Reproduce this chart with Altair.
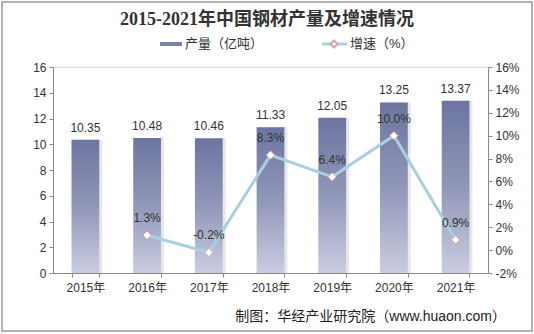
import altair as alt
import pandas as pd

years = ["2015年", "2016年", "2017年", "2018年", "2019年", "2020年", "2021年"]
output = [10.35, 10.48, 10.46, 11.33, 12.05, 13.25, 13.37]
growth = [None, 1.3, -0.2, 8.3, 6.4, 10.0, 0.9]
growth_labels = ["", "1.3%", "-0.2%", "8.3%", "6.4%", "10.0%", "0.9%"]
left_ticks = [0, 2, 4, 6, 8, 10, 12, 14, 16]
right_ticks = [-2, 0, 2, 4, 6, 8, 10, 12, 14, 16]

title_text = "2015-2021年中国钢材产量及增速情况"
legend_bar = "产量（亿吨）"
legend_line = "增速（%）"
source_text = "制图：华经产业研究院（www.huaon.com）"

FONT = "Liberation Sans, Noto Sans CJK SC, sans-serif"
W, H = 435, 206

df = pd.DataFrame({"year": years, "output": output,
                   "growth": growth, "glabel": growth_labels})
df_bar_lbl = df.assign(olabel=[f"{v:.2f}" for v in output])
df_line = df.dropna(subset=["growth"])

xenc = alt.X("year:N", sort=years, title=None,
             scale=alt.Scale(paddingInner=0.55, paddingOuter=0.3),
             axis=alt.Axis(labelAngle=0, tickBand="extent", domainColor="#888",
                           tickColor="#888", labelColor="#333", labelFontSize=12,
                           labelFont=FONT, labelPadding=5, tickSize=4))

yleft = alt.Y("output:Q", title=None,
              scale=alt.Scale(domain=[0, 16], nice=False),
              axis=alt.Axis(values=left_ticks, grid=False, domainColor="#888",
                            tickColor="#888", labelColor="#333", labelFontSize=12,
                            labelFont=FONT, tickSize=4, labelPadding=3))

grad = alt.Gradient(gradient="linear",
                    stops=[alt.GradientStop(color="#6c75a0", offset=0),
                           alt.GradientStop(color="#9097b8", offset=0.5),
                           alt.GradientStop(color="#cacde0", offset=1)],
                    x1=0, x2=0, y1=0, y2=1)

shadow = alt.Chart(df).mark_bar(color="#c4c4c4", opacity=0.4, xOffset=3).encode(
    x=xenc, y=yleft)
bars = alt.Chart(df).mark_bar(color=grad).encode(x=xenc, y=yleft)
bar_lbl = alt.Chart(df_bar_lbl).mark_text(dy=-12, fontSize=12, font=FONT,
                                          color="#333").encode(
    x=xenc, y=yleft, text="olabel:N")

yright = alt.Y("growth:Q", title=None,
               scale=alt.Scale(domain=[-2, 16], nice=False),
               axis=alt.Axis(orient="right", values=right_ticks, grid=False,
                             labelExpr="datum.value + '%'", domainColor="#888",
                             tickColor="#888", labelColor="#333", labelFontSize=12,
                             labelFont=FONT, tickSize=4, labelPadding=3))

line = alt.Chart(df_line).mark_line(color="#a9d0e0", strokeWidth=3).encode(
    x=xenc, y=yright)
pts = alt.Chart(df_line).mark_point(shape="diamond", filled=True, fill="white",
                                    stroke="#d9a3aa", strokeWidth=1, size=70,
                                    opacity=1).encode(x=xenc, y=yright)
line_lbl = alt.Chart(df_line).mark_text(dy=-17, fontSize=12, font=FONT,
                                        color="#333").encode(
    x=xenc, y=yright, text="glabel:N")

left_group = alt.layer(shadow, bars, bar_lbl)
right_group = alt.layer(line, pts, line_lbl)

one = pd.DataFrame({"k": [0]})
title_mark = alt.Chart(one).mark_text(text=title_text, fontSize=18, fontWeight="bold",
                                      font="Liberation Serif, Noto Sans CJK SC",
                                      color="#333", align="center").encode(
    x=alt.value(214), y=alt.value(-47))
leg_rect = alt.Chart(one).mark_rect(color="#7a82a8").encode(
    x=alt.value(107), x2=alt.value(129), y=alt.value(-25), y2=alt.value(-21))
leg_t1 = alt.Chart(one).mark_text(text=legend_bar, fontSize=13, font=FONT,
                                  color="#333", align="left").encode(
    x=alt.value(132), y=alt.value(-23))
leg_line = alt.Chart(one).mark_rule(color="#a9d0e0", strokeWidth=3).encode(
    x=alt.value(269), x2=alt.value(294), y=alt.value(-23))
leg_pt = alt.Chart(one).mark_point(shape="diamond", filled=True, fill="white",
                                   stroke="#d9a3aa", size=50, opacity=1).encode(
    x=alt.value(281), y=alt.value(-23))
leg_t2 = alt.Chart(one).mark_text(text=legend_line, fontSize=13, font=FONT,
                                  color="#333", align="left").encode(
    x=alt.value(297), y=alt.value(-23))
src = alt.Chart(one).mark_text(text=source_text, fontSize=14, font=FONT,
                               color="#222", align="right").encode(
    x=alt.value(453), y=alt.value(250))
border = alt.Chart(one).mark_rect(fill=None, stroke="#999", strokeWidth=1.5).encode(
    x=alt.value(-51), x2=alt.value(479), y=alt.value(-65), y2=alt.value(264))

chart = alt.layer(
    alt.layer(left_group, right_group).resolve_scale(y="independent"),
    title_mark, leg_rect, leg_t1, leg_line, leg_pt, leg_t2, src, border
).properties(
    width=W, height=H,
    autosize=alt.AutoSizeParams(type="none"),
    padding={"left": 53, "top": 67, "right": 46, "bottom": 61},
).configure_view(stroke=None).configure(background="white")

chart.save("out.html", embed_options={"renderer": "svg", "actions": False})
